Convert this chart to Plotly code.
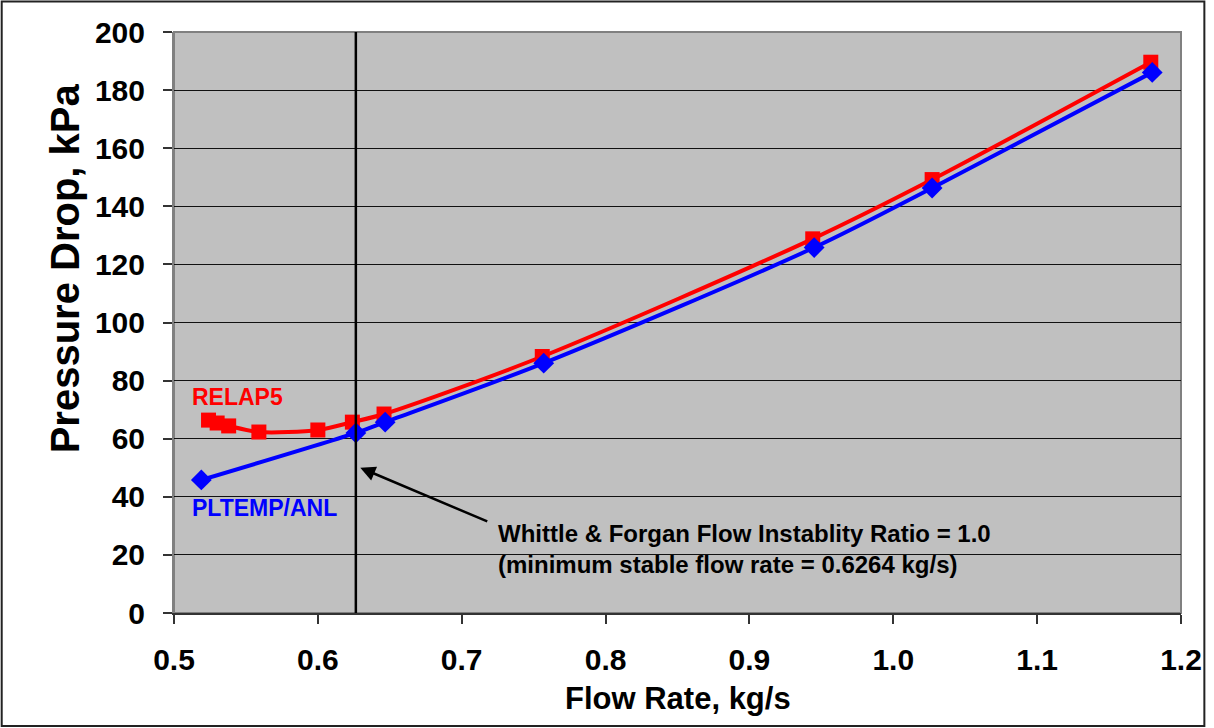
import plotly.graph_objects as go

# RELAP5 results
relap_x = [0.524, 0.530, 0.538, 0.559, 0.600, 0.624, 0.646, 0.756, 0.944, 1.027, 1.179]
relap_y = [66.4, 65.4, 64.4, 62.3, 63.0, 65.7, 68.5, 88.3, 128.8, 149.2, 189.6]

# PLTEMP/ANL results
pltemp_x = [0.519, 0.6264, 0.6468, 0.757, 0.945, 1.027, 1.180]
pltemp_y = [45.8, 62.0, 65.7, 86.0, 125.8, 146.3, 186.1]

x_ticks = [0.5, 0.6, 0.7, 0.8, 0.9, 1.0, 1.1, 1.2]
y_ticks = [0, 20, 40, 60, 80, 100, 120, 140, 160, 180, 200]

min_stable_flow = 0.6264

FONT = "Arial, Liberation Sans, sans-serif"

fig = go.Figure()

fig.add_trace(go.Scatter(
    x=relap_x, y=relap_y, mode="lines+markers", name="RELAP5",
    line=dict(color="#FF0000", width=4, shape="spline", smoothing=0.8),
    marker=dict(symbol="square", size=15, color="#FF0000"),
))
fig.add_trace(go.Scatter(
    x=pltemp_x, y=pltemp_y, mode="lines+markers", name="PLTEMP/ANL",
    line=dict(color="#0000FF", width=4, shape="spline", smoothing=0.8),
    marker=dict(symbol="diamond", size=16, color="#0000FF"),
))

# vertical line at minimum stable flow rate
fig.add_shape(type="line", xref="x", yref="y", x0=min_stable_flow, x1=min_stable_flow,
              y0=0, y1=200, line=dict(color="black", width=2.5), layer="above")

# plot-area border
fig.add_shape(type="rect", xref="paper", yref="paper", x0=0, x1=1, y0=0, y1=1,
              line=dict(color="#808080", width=2), layer="below")
# figure border
fig.add_shape(type="rect", xref="paper", yref="paper", x0=-0.1711, x1=1.0232,
              y0=-0.1945, y1=1.0525, line=dict(color="#222222", width=2), layer="above")

# arrow
fig.add_annotation(x=0.6295, y=50.0, ax=0.7188, ay=31.3, xref="x", yref="y",
                   axref="x", ayref="y", text="", showarrow=True,
                   arrowhead=2, arrowsize=1.2, arrowwidth=2.5, arrowcolor="black")
# annotation text
fig.add_annotation(x=0.7236, y=22.0, xref="x", yref="y", xanchor="left", yanchor="middle",
                   align="left", showarrow=False,
                   text="Whittle &amp; Forgan Flow Instablity Ratio = 1.0<br>(minimum stable flow rate = 0.6264 kg/s)",
                   font=dict(family=FONT, size=24, color="black", weight="bold"))

# series labels
fig.add_annotation(x=0.5111, y=74.4, xref="x", yref="y", xanchor="left", yanchor="middle",
                   showarrow=False, text="RELAP5",
                   font=dict(family=FONT, size=23, color="#FF0000", weight="bold"))
fig.add_annotation(x=0.5111, y=36.1, xref="x", yref="y", xanchor="left", yanchor="middle",
                   showarrow=False, text="PLTEMP/ANL",
                   font=dict(family=FONT, size=23, color="#0000FF", weight="bold"))

# axis titles
fig.add_annotation(x=0.5, y=-0.147, xref="paper", yref="paper", xanchor="center",
                   yanchor="middle", showarrow=False, text="Flow Rate, kg/s",
                   font=dict(family=FONT, size=31, color="black", weight="bold"))
fig.add_annotation(x=-0.1088, y=0.594, xref="paper", yref="paper", xanchor="center",
                   yanchor="middle", showarrow=False, text="Pressure Drop, kPa", textangle=-90,
                   font=dict(family=FONT, size=40, color="black", weight="bold"))

fig.update_layout(
    width=1214, height=728,
    margin=dict(l=174, r=29, t=32, b=115),
    paper_bgcolor="white",
    plot_bgcolor="#C0C0C0",
    showlegend=False,
    font=dict(family=FONT, color="black"),
)
fig.update_xaxes(
    range=[0.5, 1.2], tickvals=x_ticks, ticktext=[f"{v:.1f}" for v in x_ticks],
    showgrid=False, zeroline=False,
    showline=True, linecolor="#333333", linewidth=2,
    ticks="outside", ticklen=9, tickwidth=1.5, tickcolor="#333333",
    ticklabelstandoff=10,
    tickfont=dict(family=FONT, size=30, color="black", weight="bold"),
)
fig.update_yaxes(
    range=[0, 200], tickvals=y_ticks,
    showgrid=True, gridcolor="#111111", gridwidth=1, zeroline=False,
    showline=True, linecolor="#808080", linewidth=2,
    ticks="outside", ticklen=9, tickwidth=1.5, tickcolor="#333333",
    ticklabelstandoff=12,
    tickfont=dict(family=FONT, size=30, color="black", weight="bold"),
)

fig.write_html("out.html")
